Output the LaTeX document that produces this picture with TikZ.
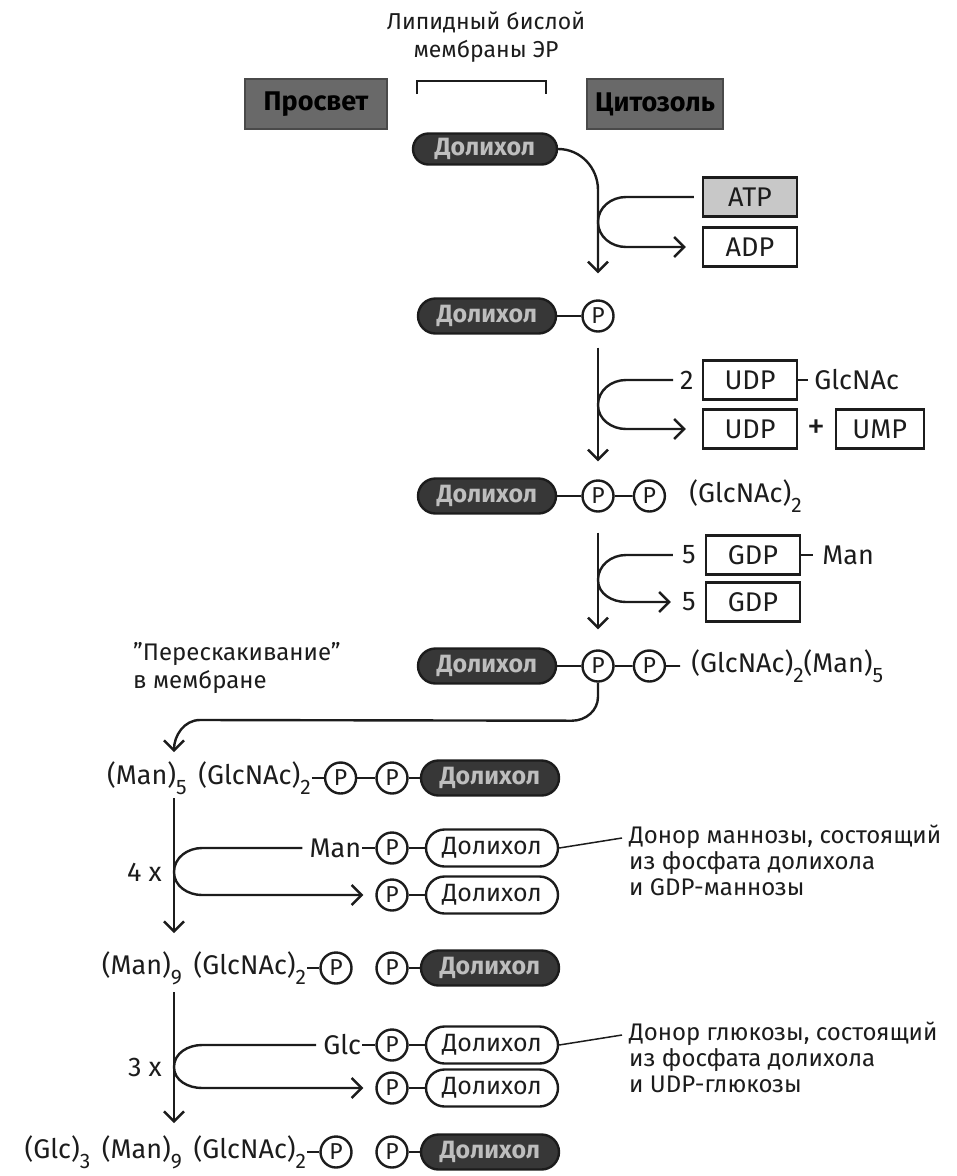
\documentclass[tikz,border=0pt]{standalone}
\usepackage{fontspec}
\setmainfont{Fira Sans}
\usepackage{tikz}
\usetikzlibrary{arrows.meta, positioning, calc, shapes.misc}
\definecolor{glInk}{RGB}{28,28,28}
\definecolor{glDark}{RGB}{55,55,55}
\definecolor{glZone}{RGB}{105,105,105}
\definecolor{glPale}{RGB}{190,190,190}
\definecolor{glStip}{RGB}{200,200,200}
\newcommand{\subidx}[1]{\raisebox{-0.38em}{\fontsize{21}{21}\selectfont #1}}

\begin{document}
\begin{tikzpicture}[x=1pt,y=1pt,font=\fontsize{27}{30}\selectfont,
  line width=2.4pt,color=glInk,
  dol/.style={rounded rectangle,draw=glInk,fill=glDark,text=glPale,
              font=\fontsize{25}{27}\selectfont\bfseries,
              minimum width=140pt,minimum height=35pt,inner sep=1pt},
  dolw/.style={rounded rectangle,draw=glInk,fill=white,
               font=\fontsize{25}{27}\selectfont,
               minimum width=134pt,minimum height=37pt,inner sep=1pt},
  zone/.style={draw=glZone!70!black,fill=glZone,text=black,
               font=\fontsize{27}{29}\selectfont\bfseries,
               minimum height=50pt,inner sep=2pt},
  pho/.style={circle,draw=glInk,fill=white,minimum size=31pt,inner sep=0pt,
              font=\fontsize{23}{24}\selectfont},
  nuc/.style={draw=glInk,minimum width=94pt,minimum height=39pt,inner sep=2pt},
  lbl/.style={inner sep=0pt},
  bond/.style={line width=1.9pt},
  flow/.style={-{Straight Barb[length=10pt,width=20pt]}},
  note/.style={inner sep=0pt,align=left,anchor=north west,
               font=\fontsize{24}{26}\selectfont}]

\useasboundingbox (0,0) rectangle (957,-1176);

% ===== Membrane header =====
\node[align=center,font=\fontsize{23}{28}\selectfont] (bilayer) at (486,-37)
  {Липидный бислой\\мембраны ЭР};
\draw[line width=1.8pt] (417,-94) |- (546,-81) -- (546,-94);
\node[zone,minimum width=142pt] (lumen) at (316,-104) {Просвет};
\node[zone,minimum width=136pt] (cytosol) at (655,-104) {Цитозоль};

% ===== Step 1: phosphorylation =====
\node[dol,minimum width=146pt,minimum height=31pt] (dol1) at (485,-149) {Долихол};
\node[nuc,fill=glStip] (atp) at (750,-197) {ATP};
\node[nuc] (adp) at (750,-247) {ADP};
\node[dol] (dol2) at (487,-316) {Долихол};
\node[pho] (p2) at (598,-316) {P};
\draw[bond] (dol2) -- (p2);
\coordinate (s1) at (598,-190);
\coordinate (j1) at (598,-222);
\draw[flow,shorten >=26pt] (dol1.east) to[out=0,in=90] (s1) -- (p2.north);
\draw ([xshift=-8pt]atp.west) -- ($(j1)+(28,25)$) to[out=180,in=90] (j1);
\draw[flow] (j1) to[out=-90,in=180] ($(j1)+(28,-25)$) -- ([xshift=-16pt]adp.west);

% ===== Step 2: two GlcNAc =====
\node[nuc] (udp1) at (750,-380) {UDP};
\node[lbl,left=7pt of udp1] (n2) {2};
\draw[bond] (udp1.east) -- ++(10,0);
\node[lbl,right=15pt of udp1] (glcnac) {GlcNAc};
\node[nuc] (udp2) at (750,-429) {UDP};
\node[lbl,right=8pt of udp2,font=\fontsize{36}{36}\selectfont] (plus) {+};
\node[nuc,minimum width=88pt,right=8pt of plus] (ump) {UMP};
\node[dol] (dol3) at (487,-496) {Долихол};
\node[pho] (p3a) at (598,-496) {P};
\node[pho,right=18pt of p3a] (p3b) {P};
\node[lbl,right=22pt of p3b] (gn2) {(GlcNAc)\subidx{2}};
\draw[bond] (dol3) -- (p3a) (p3a) -- (p3b);
\coordinate (j2) at (598,-405);
\draw[flow,shorten <=15pt,shorten >=18pt] (p2.south) -- (p3a.north);
\draw ([xshift=-6pt]n2.west) -- ($(j2)+(28,25)$) to[out=180,in=90] (j2);
\draw[flow] (j2) to[out=-90,in=180] ($(j2)+(28,-24)$) -- ([xshift=-16pt]udp2.west);

% ===== Step 3: five mannoses =====
\node[nuc] (gdp1) at (753,-555) {GDP};
\node[lbl,left=8pt of gdp1] (n5a) {5};
\draw[bond] (gdp1.east) -- ++(12,0);
\node[lbl,right=20pt of gdp1] (man1) {Man};
\node[nuc] (gdp2) at (753,-602) {GDP};
\node[lbl,left=8pt of gdp2] (n5b) {5};
\node[dol] (dol4) at (487,-666) {Долихол};
\node[pho] (p4a) at (598,-666) {P};
\node[pho,right=18pt of p4a] (p4b) {P};
\node[lbl,right=24pt of p4b] (gn2m5) {(GlcNAc)\subidx{2}(Man)\subidx{5}};
\draw[bond] (dol4) -- (p4a) (p4a) -- (p4b) (p4b.east) -- ++(14,0);
\coordinate (j3) at (598,-580);
\draw[flow,shorten <=20pt,shorten >=20pt] (p3a.south) -- (p4a.north);
\draw ([xshift=-8pt]n5a.west) -- ($(j3)+(28,25)$) to[out=180,in=90] (j3);
\draw[flow] (j3) to[out=-90,in=180] ($(j3)+(28,-22)$) -- ([xshift=-10pt]n5b.west);

% ===== Flip across the bilayer =====
\node[lbl,align=left,anchor=west,font=\fontsize{24}{28}\selectfont] (hop)
  at (132,-668) {''Перескакивание''\\в мембране};
\coordinate (land) at (174,-752);
\draw[flow] (p4a.south) -- ++(0,-14) to[out=-90,in=0] ++(-26,-24)
  -- (200,-720) to[out=180,in=90] (land);

% ===== Row 5 =====
\node[dol] (dol5) at (490,-778) {Долихол};
\node[pho] (p5b) at (392,-778) {P};
\node[pho,left=18pt of p5b] (p5a) {P};
\node[lbl,left=12pt of p5a] (m5) {(Man)\subidx{5}\, (GlcNAc)\subidx{2}};
\draw[bond] (m5) -- (p5a) (p5a) -- (p5b) (p5b) -- (dol5);

% ===== Step 4: four mannoses from Dol-P-Man =====
\coordinate (s4) at (174,-798);
\coordinate (j4) at (174,-872);
\coordinate (e4) at (174,-933);
\node[dolw] (dolm) at (492,-848) {Долихол};
\node[pho] (pm) at (392,-848) {P};
\node[lbl,left=13pt of pm] (man) {Man};
\node[pho] (pm2) at (392,-895) {P};
\node[dolw] (dolm2) at (492,-895) {Долихол};
\node[lbl,anchor=east] (four) at (163,-872) {4 x};
\node[note] (mandon) at (628,-824)
  {Донор маннозы, состоящий\\из фосфата долихола\\и GDP-маннозы};
\draw[bond] (man) -- (pm) (pm) -- (dolm) (pm2) -- (dolm2);
\draw[flow] (s4) -- (e4);
\draw ([xshift=-6pt]man.west) -- ($(j4)+(28,24)$) to[out=180,in=90] (j4);
\draw[flow] (j4) to[out=-90,in=180] ($(j4)+(28,-23)$) -- ([xshift=-12pt]pm2.west);
\draw[line width=1.5pt] (dolm.east) -- ([xshift=-6pt,yshift=-14pt]mandon.north west);

% ===== Row 6 =====
\node[dol] (dol6) at (490,-968) {Долихол};
\node[pho] (p6b) at (392,-968) {P};
\node[pho] (p6a) at (336,-968) {P};
\node[lbl,left=12pt of p6a] (m9) {(Man)\subidx{9}\, (GlcNAc)\subidx{2}};
\draw[bond] (m9) -- (p6a) (p6b) -- (dol6);

% ===== Step 5: three glucoses from Dol-P-Glc =====
\coordinate (s5) at (174,-992);
\coordinate (j5) at (174,-1067);
\coordinate (e5) at (174,-1123);
\node[dolw] (dolg) at (492,-1045) {Долихол};
\node[pho] (pg) at (392,-1045) {P};
\node[lbl,left=13pt of pg] (glc) {Glc};
\node[pho] (pg2) at (392,-1088) {P};
\node[dolw] (dolg2) at (492,-1088) {Долихол};
\node[lbl,anchor=east] (three) at (163,-1067) {3 x};
\node[note] (glcdon) at (628,-1021)
  {Донор глюкозы, состоящий\\из фосфата долихола\\и UDP-глюкозы};
\draw[bond] (glc) -- (pg) (pg) -- (dolg) (pg2) -- (dolg2);
\draw[flow] (s5) -- (e5);
\draw ([xshift=-6pt]glc.west) -- ($(j5)+(28,22)$) to[out=180,in=90] (j5);
\draw[flow] (j5) to[out=-90,in=180] ($(j5)+(28,-21)$) -- ([xshift=-12pt]pg2.west);
\draw[line width=1.5pt] (dolg.east) -- ([xshift=-6pt,yshift=-14pt]glcdon.north west);

% ===== Row 7 =====
\node[dol] (dol7) at (490,-1152) {Долихол};
\node[pho] (p7b) at (392,-1152) {P};
\node[pho] (p7a) at (336,-1152) {P};
\node[lbl,left=12pt of p7a] (g3) {(Glc)\subidx{3}\, (Man)\subidx{9}\, (GlcNAc)\subidx{2}};
\draw[bond] (g3) -- (p7a) (p7b) -- (dol7);
\end{tikzpicture}
\end{document}
